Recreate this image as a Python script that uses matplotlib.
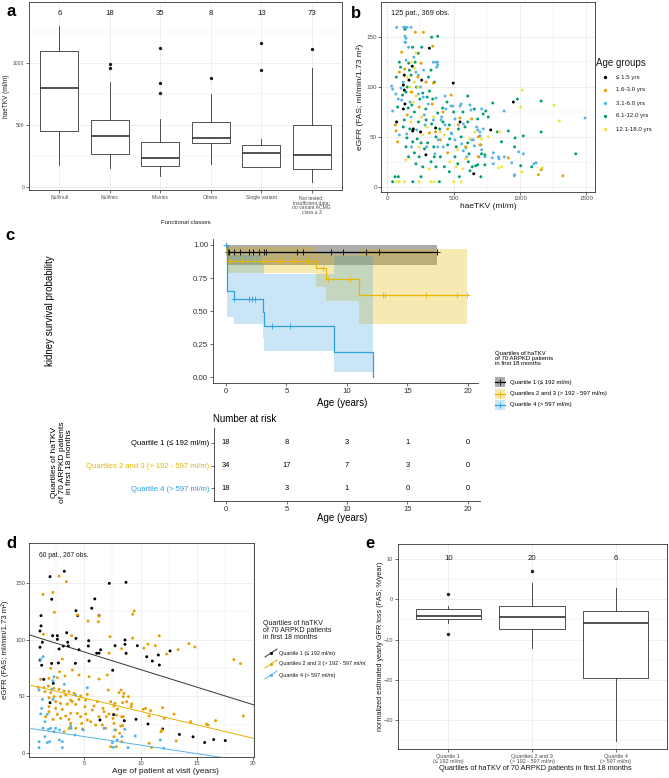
import numpy as np
import matplotlib
matplotlib.use("Agg")
import matplotlib.pyplot as plt
from matplotlib.patches import Rectangle
from matplotlib.lines import Line2D

plt.rcParams['font.family'] = ['Liberation Sans', 'DejaVu Sans']

# ---------------- data ----------------
# panel a: haeTKV by functional class
a_labels = ['Null/null', 'Null/mis', 'Mis/mis', 'Others', 'Single variant',
            'Not tested;\ninsufficient data;\nno variant ACMG\nclass \u2265 3']
a_n = [6, 18, 35, 8, 13, 73]
a_q1 = [452, 261, 169, 349, 156, 140]
a_med = [793, 406, 231, 392, 274, 253]
a_q3 = [1097, 538, 358, 519, 333, 495]
a_lo = [175, 153, 86, 180, 156, 40]
a_hi = [1296, 847, 543, 745, 382, 954]
a_out = [[], [954, 989], [758, 839, 1118], [874], [944, 1156], [1113]]

# panel b: eGFR vs haeTKV by age group
b_groups = ['\u2264 1.5 yrs', '1.6-3.0 yrs', '3.1-6.0 yrs', '6.1-12.0 yrs', '12.1-18.0 yrs']
b_colors = ['#000000', '#E69F00', '#56B4E9', '#009E73', '#F0E442']
b_age1 = [(317, 139), (188, 121), (163, 107), (259, 107), (121, 102), (128, 97), (121, 78), (133, 83),
          (70, 65), (196, 58), (191, 56), (251, 55), (364, 59), (548, 65), (779, 57), (950, 85),
          (291, 32), (651, 13), (497, 104), (128, 112)]
b_age2 = [(211, 155), (272, 155), (342, 141), (108, 135), (254, 124), (91, 115), (292, 105), (347, 104),
          (481, 92), (339, 83), (66, 56), (78, 45), (364, 55), (455, 58), (535, 62), (636, 68), (686, 50),
          (698, 42), (686, 30), (912, 29), (1139, 12), (1159, 17), (1322, 11), (455, 34), (548, 69),
          (317, 54), (130, 118), (230, 110), (180, 95), (420, 75), (60, 62), (150, 72), (240, 80),
          (400, 47), (590, 40)]
b_age3 = [(124, 160), (149, 160), (179, 160), (70, 160), (133, 151), (141, 149), (133, 145), (138, 145),
          (141, 127), (216, 115), (347, 125), (379, 125), (372, 120), (367, 125), (380, 122), (274, 117),
          (234, 112), (40, 76), (33, 101), (40, 98), (65, 93), (83, 88), (108, 87), (171, 85), (234, 93),
          (271, 90), (309, 83), (435, 91), (480, 81), (548, 81), (623, 82), (631, 77), (711, 78), (880, 76),
          (485, 53), (510, 47), (560, 43), (573, 36), (598, 30), (648, 47), (711, 37), (736, 30), (799, 34),
          (842, 28), (882, 30), (937, 24), (1025, 33), (957, 11), (1105, 23), (1490, 69), (296, 40),
          (384, 47), (422, 40), (359, 33), (183, 40), (146, 53), (221, 57), (284, 62), (347, 67), (410, 70),
          (435, 62), (510, 68), (573, 63), (698, 55), (673, 60), (681, 57), (723, 58), (698, 51), (636, 47),
          (656, 41), (706, 42), (990, 35), (691, 30), (791, 29), (837, 30), (1121, 24), (798, 23), (959, 12),
          (103, 99), (367, 89), (442, 78), (493, 81), (556, 83), (279, 72), (179, 70), (405, 67), (481, 54),
          (91, 52), (380, 40), (593, 39), (160, 140), (200, 130), (120, 105), (250, 100)]
b_age4 = [(128, 160), (133, 158), (334, 150), (380, 151), (91, 125), (161, 124), (233, 134), (329, 117),
          (166, 117), (179, 112), (68, 110), (355, 105), (141, 95), (267, 94), (317, 96), (342, 88), (417, 79),
          (78, 80), (158, 79), (204, 75), (380, 74), (128, 67), (234, 65), (292, 67), (334, 63), (468, 62),
          (536, 58), (367, 50), (556, 50), (148, 49), (191, 45), (254, 44), (304, 44), (455, 42), (141, 40),
          (204, 34), (354, 30), (216, 23), (267, 20), (367, 20), (430, 20), (531, 23), (254, 10), (83, 10),
          (468, 15), (543, 10), (40, 5), (192, 5), (392, 5), (58, 10), (606, 91), (656, 78), (742, 76),
          (723, 73), (794, 84), (980, 88), (1159, 86), (606, 65), (681, 68), (912, 56), (1159, 55), (963, 49),
          (1025, 51), (606, 44), (959, 40), (1420, 33), (616, 33), (710, 33), (735, 32), (611, 25), (681, 22),
          (666, 21), (735, 22), (1005, 21), (1088, 20), (623, 16), (705, 10), (100, 120), (150, 100),
          (190, 140), (220, 100), (245, 88), (290, 78), (310, 110), (120, 60), (170, 58), (225, 48), (280, 38),
          (330, 25), (395, 58), (420, 65), (450, 85), (500, 75), (520, 40), (570, 75), (160, 30), (240, 30),
          (300, 90), (210, 125), (260, 140), (115, 92), (185, 82), (350, 40), (400, 30), (470, 48), (510, 30),
          (585, 60), (640, 20), (760, 70), (830, 55), (860, 45)]
b_age5 = [(216, 134), (204, 119), (204, 105), (171, 100), (189, 95), (216, 91), (267, 52), (430, 52),
          (531, 37), (140, 27), (317, 18), (568, 18), (129, 5), (73, 5), (329, 5), (354, 5), (500, 5),
          (556, 5), (91, 5), (240, 5), (1018, 97), (1005, 80), (1256, 82), (1296, 66), (844, 55), (710, 48),
          (837, 19), (862, 20), (1168, 19), (1013, 15), (180, 125), (150, 110), (230, 100), (195, 85),
          (260, 70), (300, 60), (350, 70), (400, 55), (470, 25), (620, 48), (660, 55), (180, 65), (240, 40),
          (520, 20), (760, 50), (590, 28)]

# panel c: Kaplan-Meier kidney survival
km_names = ['Quartile 1 (\u2264 192 ml/m)', 'Quartiles 2 and 3 (> 192 - 597 ml/m)', 'Quartile 4 (> 597 ml/m)']
km_colors = ['#000000', '#E7B800', '#2E9FDF']
km_t = [[0, 0.1, 17.46],
        [0, 0.03, 0.12, 7.45, 8.3, 11.0, 19.93],
        [0, 0.05, 0.63, 3.02, 3.12, 8.92, 12.17]]
km_s = [[1.0, 0.944, 0.944],
        [1.0, 0.97, 0.882, 0.824, 0.745, 0.622, 0.622],
        [1.0, 0.65, 0.59, 0.49, 0.39, 0.195, 0.0]]
km_lo = [[1.0, 0.849, 0.849],
         [1.0, 0.92, 0.786, 0.685, 0.58, 0.40, 0.40],
         [1.0, 0.458, 0.40, 0.30, 0.20, 0.043, 0.043]]
km_hi = [[1.0, 1.0, 1.0],
         [1.0, 1.0, 0.985, 0.95, 0.925, 0.97, 0.97],
         [1.0, 0.925, 0.925, 0.85, 0.78, 0.92, 0.92]]
km_cens_t = [[0.18, 0.28, 0.63, 1.16, 1.87, 2.26, 2.72, 3.14, 3.32, 5.89, 6.35, 8.71, 9.70, 11.57, 12.63, 17.46],
             [0.35, 1.34, 2.36, 3.0, 4.06, 4.48, 5.64, 6.77, 8.04, 8.47, 10.23, 12.98, 13.15, 16.58, 19.12, 19.93],
             [0.0, 0.7, 1.87, 2.12, 2.36, 3.77, 5.29]]
km_cens_s = [[0.944] * 16,
             [0.882] * 8 + [0.824, 0.745, 0.745] + [0.622] * 5,
             [1.0, 0.59, 0.59, 0.59, 0.59, 0.39, 0.39]]
risk_times = [0, 5, 10, 15, 20]
risk_counts = [[18, 8, 3, 1, 0], [34, 17, 7, 3, 0], [18, 3, 1, 0, 0]]

# panel d: eGFR vs age by haTKV quartile
d_q1 = [(1.96, 155.3), (3.23, 160), (2.11, 135.4), (1.16, 121), (1.16, 112), (1.07, 107.5), (1.28, 97.6),
        (1.07, 93.2), (1.07, 82), (1.22, 77.4), (1.40, 65), (2.25, 61.5), (1.96, 44.5), (2.19, 103.4),
        (2.61, 103.4), (2.61, 100.2), (2.76, 91.7), (2.10, 79), (2.70, 79.4), (3.14, 94.3), (3.44, 106),
        (3.53, 97.6), (3.58, 94.3), (4.26, 101), (4.26, 125.4), (4.41, 121), (4.21, 79.1), (4.53, 91),
        (5.39, 99), (5.36, 94.3), (5.66, 127.5), (5.93, 135.7), (6.10, 88), (6.31, 121), (6.31, 88),
        (6.39, 29.3), (5.42, 81.2), (6.45, 91), (7.22, 149.4), (7.52, 73), (7.73, 94.6), (8.61, 95.8),
        (8.61, 99.6), (8.70, 150.3), (8.55, 28.7), (8.71, 87.9), (9.71, 94.6), (9.59, 29.9), (10.54, 84.9),
        (10.65, 25.8), (11.04, 81.1), (11.57, 86.4), (11.66, 77.6), (11.95, 21.4), (12.61, 90), (13.44, 16.6),
        (14.65, 14.5), (15.68, 9.5), (16.48, 12.1), (17.51, 11.2), (7.6, 34)]
d_q23 = [(2.76, 155.8), (3.41, 150.9), (1.34, 139.7), (2.22, 141.5), (2.34, 123.9), (5.33, 116.3), (4.38, 121.6),
         (6.31, 120.7), (6.25, 115.7), (3.05, 82.9), (2.02, 74.7), (2.81, 71.7), (3.94, 73.2), (1.13, 65.0),
         (1.87, 65.9), (2.61, 66.5), (3.29, 67.9), (4.53, 68.8), (5.42, 67.3), (6.31, 65.3), (7.04, 68.8),
         (0.92, 58.0), (1.42, 57.7), (1.81, 59.2), (2.31, 57.1), (2.76, 56.2), (3.20, 54.8), (1.51, 54.2),
         (2.02, 53.3), (3.64, 54.2), (4.09, 52.7), (4.68, 50.4), (5.27, 51.8), (1.87, 48.9), (2.31, 49.8),
         (2.90, 49.8), (3.35, 51.2), (3.79, 46.8), (4.53, 47.4), (5.12, 46.8), (6.16, 45.4), (7.13, 55.6),
         (8.08, 53.3), (7.34, 45.4), (7.72, 43.9), (2.46, 45.4), (2.90, 43.9), (3.49, 43.3), (3.94, 45.4),
         (4.23, 43.0), (5.06, 41.0), (5.86, 41.6), (6.66, 39.5), (7.64, 41.6), (7.93, 38.9), (1.87, 41.0),
         (2.46, 39.5), (3.05, 38.6), (1.87, 36.6), (2.61, 34.2), (3.35, 32.8), (3.79, 35.1), (4.38, 35.1),
         (5.12, 34.5), (5.71, 38.1), (6.75, 36.6), (7.19, 34.5), (7.84, 33.6), (1.57, 32.2), (2.22, 29.8),
         (2.90, 30.7), (3.64, 29.8), (4.68, 32.2), (5.27, 29.3), (6.31, 32.2), (6.96, 32.2), (7.55, 30.7),
         (8.32, 32.2), (3.79, 26.3), (4.77, 26.3), (5.57, 27.8), (6.01, 24.9), (6.60, 24.9), (7.64, 26.3),
         (8.23, 24.0), (3.20, 19.0), (3.64, 22.0), (4.23, 22.0), (4.83, 21.4), (6.90, 22.0), (7.78, 20.5),
         (8.14, 17.5), (7.64, 14.6), (7.34, 5.8), (7.84, 5.8), (8.32, 10.2), (1.37, 104.6), (3.88, 103.4),
         (7.2, 88), (7.29, 102.5), (8.32, 92), (9.29, 122.2), (9.42, 125.1), (9.29, 101.2), (10.29, 92.4),
         (10.65, 96.0), (11.30, 94.6), (11.65, 103.4), (12.30, 87.3), (13.33, 91.1), (14.28, 96.4),
         (14.81, 93.5), (18.27, 82.4), (18.86, 78.9), (8.26, 55.6), (8.52, 52.7), (8.46, 49.8), (8.91, 49.8),
         (8.76, 45.4), (8.40, 44.5), (9.21, 43.3), (9.15, 41.0), (10.23, 38.6), (10.44, 39.5), (10.88, 37.5),
         (10.76, 32.8), (11.95, 40.1), (12.10, 30.7), (12.96, 34.5), (11.89, 20.5), (11.80, 19.0),
         (14.43, 27.8), (15.85, 25.7), (15.97, 24.9), (16.65, 28.7), (19.11, 32.8), (10.76, 8.8), (10.97, 5.0),
         (13.15, 10.9), (8.46, 32.2), (8.40, 24.3)]
d_q4 = [(1.34, 84.9), (1.13, 82.6), (2.31, 67.3), (2.22, 63.8), (0.98, 55.6), (2.10, 56.2), (2.22, 47.4),
        (1.28, 47.4), (1.22, 39.5), (1.13, 34.6), (1.72, 34.3), (1.51, 27.8), (1.34, 22.0), (1.81, 21.1),
        (2.02, 22.0), (2.46, 22.0), (2.31, 19.0), (2.81, 20.5), (1.51, 14.6), (1.93, 10.2), (1.72, 9.4),
        (0.98, 10.2), (3.05, 10.2), (3.05, 5.0), (0.98, 5.0), (5.27, 57.7), (4.23, 51.2), (3.79, 24.0),
        (6.75, 22.0), (7.49, 9.4), (7.93, 11.7), (3.23, 60.6), (4.18, 16.1), (4.92, 20.5), (7.70, 20.5),
        (7.58, 5.3), (3.83, 22.0), (2.79, 11.7), (8.58, 21.1), (8.34, 14.7), (9.52, 15.2), (11.75, 11.7),
        (8.88, 5.0), (12.05, 4.4)]
d_colors = ['#000000', '#E69F00', '#56B4E9']
d_line_colors = ['#333333', '#E7B000', '#56B4E9']
d_intercept = [104.5, 60.4, 22.2]
d_slope = [-3.09, -2.36, -1.5]

# panel e: yearly GFR loss by quartile
e_labels = ['Quartile 1\n(\u2264 192 ml/m)', 'Quartiles 2 and 3\n(> 192 - 597 ml/m)', 'Quartile 4\n(> 597 ml/m)']
e_n = [10, 20, 6]
e_q1 = [-4.8, -7.3, -19.5]
e_med = [-4.1, -4.4, -6.0]
e_q3 = [-2.3, -1.7, -3.0]
e_lo = [-5.8, -12.2, -35.1]
e_hi = [-1.7, 4.0, 2.8]
e_out = [[1.4, -8.5], [7.0], []]

# ---------------- layout helpers ----------------
W, H = 669, 778
fig = plt.figure(figsize=(6.69, 7.78), dpi=100)


def box(l, t, r, b):
    return [l / W, 1 - b / H, (r - l) / W, (b - t) / H]


def fx(x):
    return x / W


def fy(y):
    return 1 - y / H


GRID = '#EBEBEB'
DARK = '#333333'
TXT = '#4D4D4D'


def theme_bw(ax, fs, pad=1.5):
    ax.grid(which='major', color=GRID, lw=0.6)
    ax.grid(which='minor', color=GRID, lw=0.35)
    ax.set_axisbelow(True)
    for s in ax.spines.values():
        s.set_color('#333333')
        s.set_linewidth(0.6)
    ax.tick_params(which='major', length=2, width=0.5, color=DARK, labelsize=fs,
                   labelcolor=TXT, pad=pad)
    ax.tick_params(which='minor', length=0)


def boxes(ax, q1, med, q3, lo, hi, out, width):
    stats = []
    for i in range(len(med)):
        stats.append(dict(q1=q1[i], med=med[i], q3=q3[i], whislo=lo[i], whishi=hi[i], fliers=out[i]))
    ax.bxp(stats, positions=range(1, len(med) + 1), widths=width, patch_artist=True, showcaps=False,
           boxprops=dict(facecolor='white', edgecolor=DARK, lw=0.6),
           medianprops=dict(color=DARK, lw=1.2),
           whiskerprops=dict(color=DARK, lw=0.6),
           flierprops=dict(marker='o', markerfacecolor='#1A1A1A', markeredgecolor='none', markersize=2.4),
           manage_ticks=False)


# ---------------- panel a ----------------
ax_a = fig.add_axes(box(29, 2, 342, 190))
boxes(ax_a, a_q1, a_med, a_q3, a_lo, a_hi, a_out, 0.75)
ax_a.set_xlim(0.4, 6.6)
ax_a.set_ylim(-27, 1490)
ax_a.set_xticks(range(1, 7))
ax_a.set_xticklabels(a_labels, linespacing=1.0)
ax_a.set_yticks([0, 500, 1000])
ax_a.set_yticks([250, 750, 1250], minor=True)
theme_bw(ax_a, 3.6)
for i, n in enumerate(a_n):
    ax_a.text(i + 1, 1400, str(n), ha='center', va='center', fontsize=5.6, color='#1A1A1A')
fig.text(fx(7), fy(96), 'haeTKV (ml/m)', rotation=90, ha='center', va='center', fontsize=4.7, color='#1A1A1A')
fig.text(fx(186), fy(222), 'Functional classes', ha='center', va='center', fontsize=4.3, color='#1A1A1A')

# ---------------- panel b ----------------
ax_b = fig.add_axes(box(381, 2, 595, 192))
for pts, c in zip([b_age4, b_age3, b_age5, b_age2, b_age1], [b_colors[3], b_colors[2], b_colors[4], b_colors[1], b_colors[0]]):
    arr = np.array(pts)
    ax_b.scatter(arr[:, 0], arr[:, 1], s=4.5, color=c, edgecolors='none', zorder=3)
ax_b.set_xlim(-47.5, 1565)
ax_b.set_ylim(-5.3, 185.4)
ax_b.set_xticks([0, 500, 1000, 1500])
ax_b.set_xticks([250, 750, 1250], minor=True)
ax_b.set_yticks([0, 50, 100, 150])
ax_b.set_yticks([25, 75, 125], minor=True)
theme_bw(ax_b, 4.5, pad=1.0)
ax_b.text(25, 174, '125 pat., 369 obs.', ha='left', va='center', fontsize=5.3, color='#1A1A1A')
fig.text(fx(488), fy(206.5), 'haeTKV (ml/m)', ha='center', va='center', fontsize=6, color='#1A1A1A')
fig.text(fx(360), fy(97), 'eGFR (FAS; ml/min/1.73 m\u00b2)', rotation=90, ha='center', va='center',
         fontsize=6, color='#1A1A1A')
fig.text(fx(596), fy(63), 'Age groups', ha='left', va='center', fontsize=7, color='#1A1A1A')
for i, (g, c) in enumerate(zip(b_groups, b_colors)):
    yy = 77 + 13 * i
    fig.add_artist(Line2D([fx(605)], [fy(yy)], marker='o', ms=2.4, color=c, mec='none', ls='none'))
    fig.text(fx(616), fy(yy), g, ha='left', va='center', fontsize=4.4, color='#1A1A1A')

# ---------------- panel c: KM ----------------
ax_c = fig.add_axes(box(213.2, 239.3, 477.6, 383.3))
alphas = [0.33, 0.3, 0.25]
for t, lo, hi, c, al in zip(km_t, km_lo, km_hi, km_colors, alphas):
    ax_c.fill_between(t, lo, hi, step='post', color=c, alpha=al, lw=0)
for t, s, ct, cs, c in zip(km_t, km_s, km_cens_t, km_cens_s, km_colors):
    ax_c.step(t, s, where='post', color=c, lw=0.9)
    ax_c.plot(ct, cs, ls='none', marker='+', ms=4, mew=0.6, color=c)
ax_c.set_xlim(-1.06, 20.81)
ax_c.set_ylim(-0.045, 1.043)
ax_c.set_xticks(risk_times)
ax_c.set_yticks([0, 0.25, 0.5, 0.75, 1.0])
ax_c.set_yticklabels(['0.00', '0.25', '0.50', '0.75', '1.00'])
for side in ['top', 'right']:
    ax_c.spines[side].set_visible(False)
for side in ['left', 'bottom']:
    ax_c.spines[side].set_linewidth(0.6)
    ax_c.spines[side].set_color(DARK)
ax_c.tick_params(length=2.2, width=0.5, color=DARK, labelsize=5.7, labelcolor='#333333', pad=1.5)
fig.text(fx(50), fy(311), 'kidney survival probability', rotation=90, ha='center', va='center', fontsize=7)
fig.text(fx(342), fy(402.7), 'Age (years)', ha='center', va='center', fontsize=7)

# legend c
fig.text(fx(494.7), fy(350.5), 'Quartiles of haTKV\nof 70 ARPKD patients\nin first 18 months',
         ha='left', va='top', fontsize=4.3, linespacing=1.1)
for i, (nm, c, al) in enumerate(zip(km_names, km_colors, alphas)):
    yy = 382.3 + 11.3 * i
    fig.add_artist(Rectangle((fx(494.7), fy(yy + 5)), 10.6 / W, 10 / H, transform=fig.transFigure,
                             facecolor=c, alpha=al, lw=0))
    fig.add_artist(Line2D([fx(494.7), fx(505.3)], [fy(yy), fy(yy)], color=c, lw=0.9))
    fig.add_artist(Line2D([fx(500)], [fy(yy)], marker='+', ms=4, mew=0.6, color=c, ls='none'))
    fig.text(fx(510.4), fy(yy), nm, ha='left', va='center', fontsize=4.3)

# risk table
ax_r = fig.add_axes(box(214, 428.3, 479.7, 501))
ax_r.set_xlim(-1.0, 20.98)
ax_r.set_ylim(0.44, 3.645)
rows = [3, 2, 1]
for cnt, row in zip(risk_counts, rows):
    for t, n in zip(risk_times, cnt):
        ax_r.text(t, row, str(n), ha='center', va='center', fontsize=5.4)
ax_r.set_xticks(risk_times)
ax_r.set_yticks(rows)
ax_r.set_yticklabels(km_names)
for lab, c in zip(ax_r.get_yticklabels(), km_colors):
    lab.set_color(c)
for side in ['top', 'right']:
    ax_r.spines[side].set_visible(False)
for side in ['left', 'bottom']:
    ax_r.spines[side].set_linewidth(0.6)
    ax_r.spines[side].set_color(DARK)
ax_r.tick_params(axis='x', length=2.2, width=0.5, color=DARK, labelsize=5.5, labelcolor='#333333', pad=1.5)
ax_r.tick_params(axis='y', length=2.2, width=0.5, color=DARK, labelsize=5.5, pad=1.2)
fig.text(fx(213.2), fy(419.3), 'Number at risk', ha='left', va='center', fontsize=7)
fig.text(fx(342), fy(518), 'Age (years)', ha='center', va='center', fontsize=7)
fig.text(fx(62), fy(462), 'Quartiles of haTKV\nof 70 ARPKD patients\nin first 18 months', rotation=90,
         ha='center', va='center', fontsize=6, linespacing=1.1)

# ---------------- panel d ----------------
ax_d = fig.add_axes(box(29.3, 543.3, 254, 757.3))
for pts, c in zip([d_q1, d_q23, d_q4], d_colors):
    arr = np.array(pts)
    ax_d.scatter(arr[:, 0], arr[:, 1], s=4.5, color=c, edgecolors='none', zorder=3)
ax_d.set_xlim(0.12, 20.06)
ax_d.set_ylim(-3.5, 184.6)
xs = np.array(ax_d.get_xlim())
for a0, b1, c in zip(d_intercept, d_slope, d_line_colors):
    ax_d.plot(xs, a0 + b1 * xs, color=c, lw=0.7, zorder=4)
ax_d.set_xticks([5, 10, 15, 20])
ax_d.set_xticks([2.5, 7.5, 12.5, 17.5], minor=True)
ax_d.set_yticks([0, 50, 100, 150])
ax_d.set_yticks([25, 75, 125], minor=True)
theme_bw(ax_d, 4.2, pad=1.0)
ax_d.text(1.0, 174.3, '60 pat., 267 obs.', ha='left', va='center', fontsize=4.8, color='#1A1A1A')
fig.text(fx(165), fy(771.5), 'Age of patient at visit (years)', ha='center', va='center', fontsize=6, color='#1A1A1A')
fig.text(fx(5.5), fy(650), 'eGFR (FAS; ml/min/1.73 m\u00b2)', rotation=90, ha='center', va='center',
         fontsize=5.6, color='#1A1A1A')
fig.text(fx(263.3), fy(620), 'Quartiles of haTKV\nof 70 ARPKD patients\nin first 18 months',
         ha='left', va='top', fontsize=5, linespacing=1.0, color='#1A1A1A', zorder=0.5)
for i, (nm, c, lc) in enumerate(zip(km_names, d_colors, d_line_colors)):
    yy = 653 + 11 * i
    fig.add_artist(Line2D([fx(265), fx(277)], [fy(yy + 4), fy(yy - 4)], color=lc, lw=0.7, zorder=0.5))
    fig.add_artist(Line2D([fx(271)], [fy(yy)], marker='o', ms=2.2, color=c, mec='none', ls='none', zorder=0.5))
    fig.text(fx(279.3), fy(yy), nm, ha='left', va='center', fontsize=4.0, color='#1A1A1A', zorder=0.5)

# background of panel e (hides the end of the long legend line of d, as in the source)
ax_bg = fig.add_axes(box(366, 522, 669, 778))
ax_bg.set_xticks([])
ax_bg.set_yticks([])
for s in ax_bg.spines.values():
    s.set_visible(False)
ax_bg.set_facecolor('white')
ax_bg.set_zorder(1)

# ---------------- panel e ----------------
ax_e = fig.add_axes(box(397.7, 544, 666.7, 749.3))
ax_e.set_zorder(2)
boxes(ax_e, e_q1, e_med, e_q3, e_lo, e_hi, e_out, 0.78)
ax_e.set_xlim(0.395, 3.61)
ax_e.set_ylim(-37.2, 13.7)
ax_e.set_xticks([1, 2, 3])
ax_e.set_xticklabels(e_labels, linespacing=1.0)
ax_e.set_yticks([-30, -20, -10, 0, 10])
ax_e.set_yticks([-35, -25, -15, -5, 5], minor=True)
theme_bw(ax_e, 4.0, pad=1.2)
for i, n in enumerate(e_n):
    ax_e.text(i + 1, 10, str(n), ha='center', va='center', fontsize=5.6, color='#1A1A1A')
fig.text(fx(380.5), fy(646.6), 'normalized estimated yearly GFR loss (FAS; %/year)', rotation=90,
         ha='center', va='center', fontsize=5.2, color='#1A1A1A', zorder=3)
fig.text(fx(535), fy(768.5), 'Quartiles of haTKV of 70 ARPKD patients in first 18 months',
         ha='center', va='center', fontsize=5.3, color='#1A1A1A', zorder=3)

# ---------------- panel letters ----------------
for lt, (x, y) in zip('abcde', [(11, 11), (356, 13), (10, 235), (11, 543), (370, 544)]):
    fig.text(fx(x), fy(y), lt, ha='center', va='center', fontsize=12, fontweight='bold', zorder=3)

fig.savefig('out.png', dpi=100, facecolor='white')
